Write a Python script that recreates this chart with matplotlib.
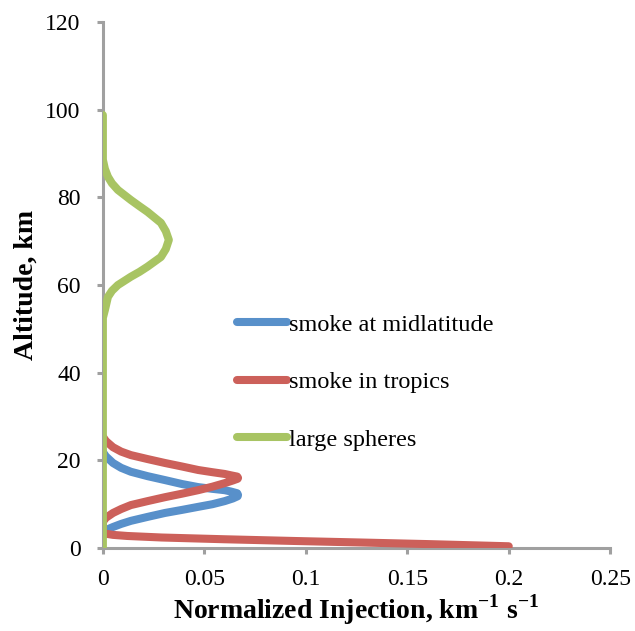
import numpy as np
import matplotlib.pyplot as plt

# values (x = normalized injection, y = altitude km)
mid_x = [0.0, 0.0015, 0.005, 0.009, 0.0138, 0.022, 0.0306, 0.039, 0.047, 0.054, 0.06,
         0.064, 0.0664, 0.0666, 0.0662, 0.063, 0.06, 0.054, 0.047, 0.039, 0.0306,
         0.022, 0.0138, 0.009, 0.005, 0.0015, 0.0]
mid_y = [3.0, 4.1, 4.8, 5.5, 6.2, 7.1, 8.0, 8.7, 9.4, 10.0, 10.7,
         11.3, 11.8, 12.1, 12.5, 12.9, 13.2, 13.5, 13.9, 14.6, 15.5,
         16.4, 17.4, 18.3, 19.4, 20.9, 21.9]

trop_x = [0.2, 0.16, 0.128, 0.095, 0.06, 0.029, 0.012, 0.005, 0.001, 0.0,
          0.0, 0.0015, 0.005, 0.009, 0.0138, 0.022, 0.0306, 0.039, 0.047, 0.054, 0.06,
          0.064, 0.0664, 0.0666, 0.0662, 0.063, 0.06, 0.054, 0.047, 0.039, 0.0306,
          0.022, 0.0138, 0.009, 0.005, 0.0015, 0.0]
trop_y = [0.4, 0.9, 1.25, 1.6, 2.0, 2.4, 2.75, 3.0, 3.3, 3.7,
          6.0, 6.9, 8.0, 8.9, 9.8, 10.7, 11.6, 12.4, 13.2, 14.0, 14.8,
          15.4, 15.8, 16.0, 16.3, 16.6, 16.9, 17.3, 17.8, 18.6, 19.4,
          20.3, 21.2, 22.0, 23.0, 24.4, 25.4]

sph_x = [0.0, 0.0, 0.001, 0.0025, 0.0045, 0.0074, 0.0138, 0.018, 0.022, 0.0286, 0.031,
         0.0325, 0.031, 0.0286, 0.022, 0.018, 0.0138, 0.0074, 0.0045, 0.0025, 0.001,
         0.0, 0.0]
sph_y = [0.0, 52.5, 54.3, 57.3, 58.7, 60.0, 61.9, 63.0, 64.2, 66.4, 68.2,
         70.3, 72.3, 74.2, 76.7, 78.0, 79.4, 81.7, 83.2, 84.7, 86.5,
         88.6, 98.8]

labels = ['smoke at midlatitude', 'smoke in tropics', 'large spheres']
colors = ['#5890ca', '#cc605a', '#a8c463']
xticks = [0, 0.05, 0.1, 0.15, 0.2, 0.25]
xtick_labels = ['0', '0.05', '0.1', '0.15', '0.2', '0.25']
yticks = [0, 20, 40, 60, 80, 100, 120]

plt.rcParams['font.family'] = ['Liberation Serif', 'DejaVu Serif']

fig = plt.figure(figsize=(6.35, 6.31), dpi=100)
ax = fig.add_axes([0.162, 0.1315, 0.799, 0.8335])

lw = 5.8
series = [(mid_x, mid_y), (trop_x, trop_y), (sph_x, sph_y)]
for i, (xs, ys) in enumerate(series):
    # clipped at the plot area but drawn over the spine, like the original
    ax.plot(xs, ys, color=colors[i], lw=lw, solid_capstyle='round',
            solid_joinstyle='round', label=labels[i], zorder=3 + i)

ax.set_xlim(0, 0.25)
ax.set_ylim(0, 120)
ax.set_xticks(xticks)
ax.set_xticklabels(xtick_labels)
ax.set_yticks(yticks)

for s in ['top', 'right']:
    ax.spines[s].set_visible(False)
for s in ['left', 'bottom']:
    ax.spines[s].set_color('#a0a0a0')
    ax.spines[s].set_linewidth(2.2)
ax.tick_params(colors='#a0a0a0', width=2.2, length=4, labelcolor='black',
               labelsize=17)
ax.tick_params(axis='x', pad=11)
ax.tick_params(axis='y', pad=12)

ax.set_xlabel('Normalized Injection, km$^{\\mathregular{-1}}$ s$^{\\mathregular{-1}}$',
              fontsize=20, fontweight='bold', labelpad=2)
ax.set_ylabel('Altitude, km', fontsize=20, fontweight='bold', labelpad=5)

ax.legend(loc='upper left', bbox_to_anchor=(0.264, 0.445), frameon=False,
          fontsize=17.5, handlelength=2.06, handletextpad=0.08, labelspacing=1.45,
          borderpad=0, borderaxespad=0)

fig.savefig('out.png', dpi=100)
